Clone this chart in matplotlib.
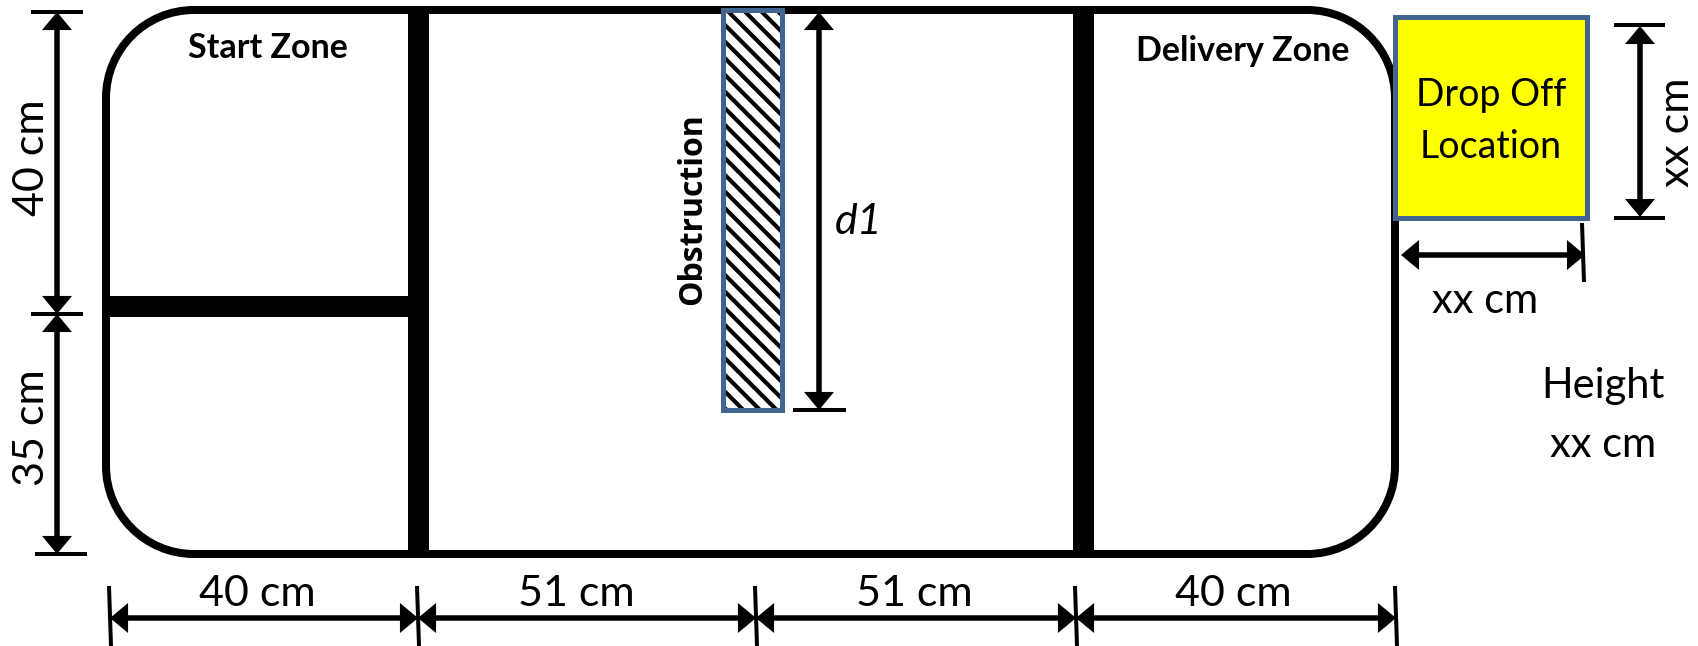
import matplotlib
matplotlib.use("Agg")
import matplotlib.pyplot as plt
from matplotlib.patches import FancyArrowPatch, PathPatch, Rectangle
from matplotlib.path import Path

plt.rcParams["font.family"] = ["Lato", "DejaVu Sans"]
plt.rcParams["hatch.linewidth"] = 3.0

DPI = 100
W, H = 1699, 646

# labels
width_labels = ["40 cm", "51 cm", "51 cm", "40 cm"]
side_labels = ["40 cm", "35 cm"]
unknown_label = "xx cm"
zone_labels = ["Start Zone", "Delivery Zone"]

# layout in image pixels, the drawing is not to scale
bottom_ticks = [110, 418, 756, 1076, 1396]
bottom_mid = [257, 576, 914, 1233]
left_ticks = [12, 314, 554]
left_mid = [158, 428]
wall_x = [418, 1083]

BLUE = "#41658f"
HEAD = 18


def px(v):
    return v * 72 / DPI


def line(ax, xs, ys, w=4, z=4):
    ax.plot(xs, ys, color="black", lw=px(w), solid_capstyle="butt", zorder=z)


def arrow(ax, a, b):
    # heads without an outline, shaft drawn on its own
    ax.add_patch(FancyArrowPatch(a, b, arrowstyle="<|-|>,head_length=%.1f,head_width=%.1f" % (px(HEAD), px(15)),
                                 mutation_scale=1, shrinkA=0, shrinkB=0, lw=0, color="black", zorder=5))
    if a[0] == b[0]:
        line(ax, [a[0], b[0]], [a[1] + HEAD - 2, b[1] - HEAD + 2], w=5.5, z=5)
    else:
        line(ax, [a[0] + HEAD - 2, b[0] - HEAD + 2], [a[1], b[1]], w=5.5, z=5)


def round_box(x0, y0, x1, y1, r):
    # cubic corners so they stay circular
    k = r * 0.4477
    verts = [(x0 + r, y0), (x1 - r, y0),
             (x1 - k, y0), (x1, y0 + k), (x1, y0 + r), (x1, y1 - r),
             (x1, y1 - k), (x1 - k, y1), (x1 - r, y1), (x0 + r, y1),
             (x0 + k, y1), (x0, y1 - k), (x0, y1 - r), (x0, y0 + r),
             (x0, y0 + k), (x0 + k, y0), (x0 + r, y0), (x0 + r, y0)]
    C = Path.CURVE4
    L = Path.LINETO
    codes = [Path.MOVETO, L, C, C, C, L, C, C, C, L, C, C, C, L, C, C, C, Path.CLOSEPOLY]
    return Path(verts, codes)


fig = plt.figure(figsize=(W / DPI, H / DPI), dpi=DPI)
ax = fig.add_axes([0, 0, 1, 1])
ax.set_xlim(0, W)
ax.set_ylim(H, 0)
ax.axis("off")

# track outline
ax.add_patch(PathPatch(round_box(106, 10, 1395, 554, 88), fc="white", ec="black", lw=px(8), zorder=1))
for x in wall_x:
    line(ax, [x, x], [10, 554], w=21, z=2)
line(ax, [106, 418], [306, 306], w=21, z=2)

# obstruction
ax.add_patch(Rectangle((723, 10), 59, 400, fc="white", ec="black", hatch="\\\\", lw=0, zorder=3))
ax.add_patch(Rectangle((723, 10), 59, 400, fill=False, ec=BLUE, lw=px(5), zorder=4))
ax.text(693, 209, "Obstruction", rotation=90, ha="center", va="center", fontsize=23,
        fontweight="bold", family="Open Sans")

# d1
arrow(ax, (819, 12), (819, 410))
line(ax, [793, 846], [410, 410])
ax.text(859, 222, "d1", ha="center", va="center", fontsize=31, style="italic")

# zones
ax.text(268, 48, zone_labels[0], ha="center", va="center", fontsize=24.5, fontweight="bold")
ax.text(1243, 51, zone_labels[1], ha="center", va="center", fontsize=24.5, fontweight="bold")

# drop off location
ax.add_patch(Rectangle((1395, 17), 192, 201, fc="#ffff00", ec=BLUE, lw=px(5), zorder=4))
ax.text(1491, 95, "Drop Off", ha="center", va="center", fontsize=27, zorder=6)
ax.text(1491, 147, "Location", ha="center", va="center", fontsize=27, zorder=6)

arrow(ax, (1640, 26), (1640, 217))
line(ax, [1614, 1665], [25, 25])
line(ax, [1614, 1665], [218, 218])
ax.text(1677, 132, unknown_label, rotation=90, ha="center", va="center", fontsize=31)

arrow(ax, (1401, 255), (1585, 255))
line(ax, [1582, 1584], [223, 282])
ax.text(1485, 301, unknown_label, ha="center", va="center", fontsize=30)
ax.text(1603, 386, "Height", ha="center", va="center", fontsize=30)
ax.text(1603, 445, unknown_label, ha="center", va="center", fontsize=30)

# left dimensions
for y, x0 in zip(left_ticks, [31, 31, 35]):
    line(ax, [x0, x0 + 52], [y, y])
for i, lab in enumerate(side_labels):
    arrow(ax, (57, left_ticks[i]), (57, left_ticks[i + 1]))
    ax.text(32, left_mid[i], lab, rotation=90, ha="center", va="center", fontsize=31)

# bottom dimensions
for x in bottom_ticks:
    line(ax, [x - 1, x + 1], [586, 646])
for i, lab in enumerate(width_labels):
    arrow(ax, (bottom_ticks[i], 618), (bottom_ticks[i + 1], 618))
    ax.text(bottom_mid[i], 594, lab, ha="center", va="center", fontsize=31)

fig.savefig("out.png", dpi=DPI)
